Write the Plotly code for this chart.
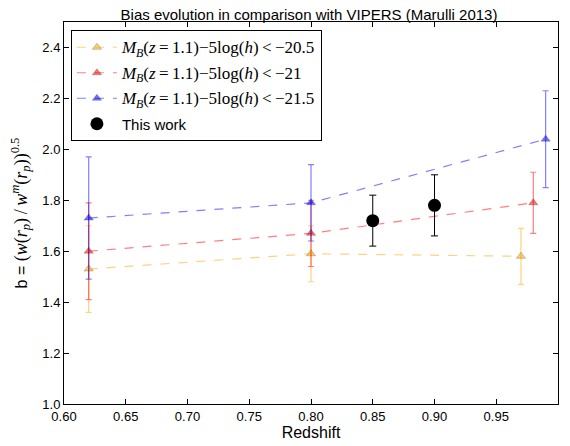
import plotly.graph_objects as go

# Data
z_faint = [0.62, 0.80, 0.97]
b_faint = [1.53, 1.59, 1.58]
e_faint = [0.17, 0.11, 0.11]

z_mid = [0.62, 0.80, 0.98]
b_mid = [1.60, 1.67, 1.79]
e_mid = [0.19, 0.13, 0.12]

z_bright = [0.62, 0.80, 0.99]
b_bright = [1.73, 1.79, 2.04]
e_bright = [0.24, 0.15, 0.19]

z_this = [0.85, 0.90]
b_this = [1.72, 1.78]
e_this = [0.10, 0.12]

x_ticks = [0.60, 0.65, 0.70, 0.75, 0.80, 0.85, 0.90, 0.95, 1.00]
y_ticks = [1.0, 1.2, 1.4, 1.6, 1.8, 2.0, 2.2, 2.4]

SERIF = "'Liberation Serif'"

def mlabel(thr):
    return (f'<span style="font-family:{SERIF};font-size:17px">'
            '<i>M</i><sub><i>B</i></sub>(<i>z</i>\u2009=\u20091.1)\u22125log(<i>h</i>)\u2009&lt;\u2009\u2212' + thr + '</span>')

series = [
    (z_faint, b_faint, e_faint, (255, 165, 0), "20.5", "g1"),
    (z_mid, b_mid, e_mid, (255, 0, 0), "21", "g2"),
    (z_bright, b_bright, e_bright, (0, 0, 255), "21.5", "g3"),
]

fig = go.Figure()
for xs, ys, es, (r, g, b), thr, grp in series:
    c = f"rgba({r},{g},{b},0.5)"
    fig.add_trace(go.Scatter(
        x=xs, y=ys, mode="lines+markers", name=mlabel(thr), legendgroup=grp,
        line=dict(color=c, dash="dash", width=1.2),
        marker=dict(symbol="triangle-up", size=8, color=f"rgba({r},{g},{b},0.55)",
                    line=dict(color="rgba(0,0,0,0.35)", width=0.6)),
        error_y=dict(type="data", array=es, color=c, thickness=1.2, width=3),
    ))

fig.add_trace(go.Scatter(
    x=z_this, y=b_this, mode="markers", legendgroup="g4",
    name='<span style="font-size:15px">This work</span>',
    marker=dict(symbol="circle", size=13, color="black"),
    error_y=dict(type="data", array=e_this, color="black", thickness=1, width=3.5),
))

axis_common = dict(
    showline=True, linecolor="black", linewidth=1, mirror="ticks",
    ticks="inside", ticklen=5, tickcolor="black", showgrid=False, zeroline=False,
    automargin=False,
    tickfont=dict(family="Liberation Sans", size=13, color="black"),
)

ytitle = ('b = ' f'<span style="font-family:{SERIF};font-size:18px">'
          '(<i>w</i>(<i>r</i><sub><i>p</i></sub>)\u2009/\u2009<i>w</i><sup><i>m</i></sup>(<i>r</i><sub><i>p</i></sub>))<sup>0.5</sup></span>')

fig.update_layout(
    width=562, height=438,
    margin=dict(l=56, r=12, t=14, b=42),
    paper_bgcolor="white", plot_bgcolor="white",
    title=dict(text="Bias evolution in comparison with VIPERS (Marulli 2013)",
               x=0.5356, xanchor="center", y=0.9835, yanchor="middle",
               font=dict(family="Liberation Sans", size=15, color="black")),
    xaxis=dict(range=[0.6, 1.0], tickvals=x_ticks, ticktext=[f"{v:.2f}" for v in x_ticks],
               title=dict(text="Redshift", font=dict(family="Liberation Sans", size=16, color="black"), standoff=2),
               **axis_common),
    yaxis=dict(range=[1.0, 2.5], tickvals=y_ticks, ticktext=[f"{v:.1f}" for v in y_ticks],
               title=dict(text=ytitle,
                          font=dict(family="Liberation Sans", size=16, color="black"), standoff=12),
               **axis_common),
    legend=dict(x=0.014, y=0.979, xanchor="left", yanchor="top",
                bgcolor="white", bordercolor="black", borderwidth=1,
                font=dict(family="Liberation Sans", size=15, color="black"),
                tracegroupgap=3, itemwidth=40),
    showlegend=True,
)

fig.write_html("out.html")
